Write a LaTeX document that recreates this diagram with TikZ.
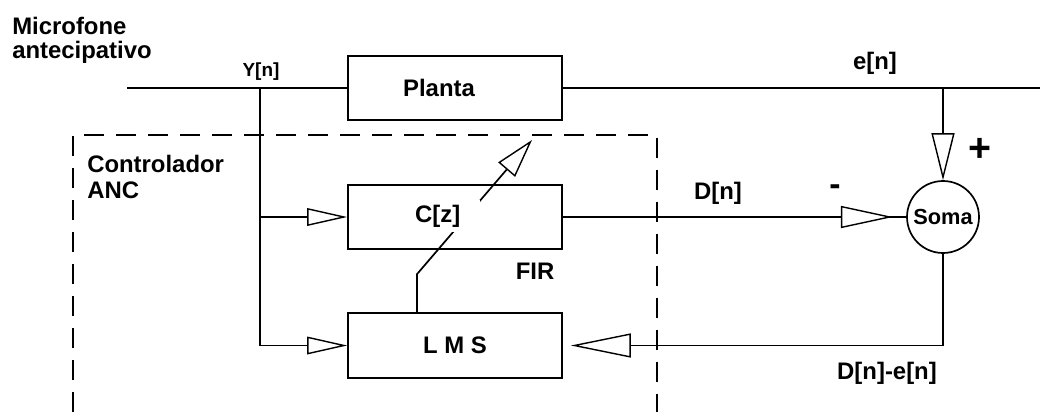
\documentclass[tikz,border=0pt]{standalone}
\usepackage{fontspec}
\setmainfont{Liberation Sans}
\usetikzlibrary{arrows.meta,positioning,calc}

\begin{document}
\begin{tikzpicture}[
  block/.style={draw, line width=1.2pt, minimum width=5.35cm, minimum height=1.6cm, inner sep=0pt},
  txt/.style={font=\fontsize{17}{17}\selectfont\bfseries, inner sep=1pt},
  conn/.style={line width=1.2pt},
  tri/.style 2 args={conn, -{Triangle[fill=white, length=#1, width=#2, line width=1pt]}},
  ctrlbox/.style={line width=1.4pt, dash pattern=on 0.5cm off 0.3cm}
]
\useasboundingbox (0,0) rectangle (26,-10.3);

% Blocks
\node[block] (planta) at (11.375,-2.2) {};
\node[block] (cz) at (11.375,-5.425) {};
\node[block, txt, minimum height=1.625cm] (lms) at (11.375,-8.6375) {L M S};
\node[circle, draw, line width=1.2pt, minimum size=1.8cm, inner sep=0pt,
      font=\fontsize{15.5}{15.5}\selectfont\bfseries] (soma) at (23.575,-5.425) {Soma};

% Controller region
\draw[ctrlbox] (1.825,-10.3) -- (1.825,-3.375) -- (16.425,-3.375) -- (16.425,-10.3);

% Primary path
\coordinate (mic) at (3.175,-2.2);
\coordinate (yn) at (6.5,-2.2);
\coordinate (en) at (23.575,-2.2);
\coordinate (out) at (26,-2.2);
\draw[conn] (mic) -- (planta.west);
\draw[conn] (planta.east) -- (out);

% Reference signal to C[z] and LMS
\draw[tri={1cm}{0.44cm}] (yn) |- (lms.west);
\draw[tri={1cm}{0.44cm}] (yn |- cz.west) -- (cz.west);

% Summing junction
\draw[tri={1.175cm}{0.575cm}] (en) -- (soma.north);
\draw[conn] (cz.east) -- (soma.west);
\draw[tri={1.3cm}{0.55cm}, shorten >=0.33cm] (cz.east) -- (soma.west);
\draw[tri={1.5cm}{0.6cm}, shorten >=0.2cm] (soma.south) |- (lms.east);

% Coefficient update
\coordinate (adj) at ($(lms.north)+(-0.95,0)$);
\coordinate (tip) at (13.3,-3.5);
\draw[tri={0.975cm}{0.55cm}] (adj) -- ++(0,0.95) -- (tip);

% Labels
\node[txt, fill=white, anchor=west, align=left, text width=1.55cm, minimum height=0.8cm, inner xsep=2pt]
  (czlabel) at (10.3,-5.4) {C[z]};
\node[txt] (plantalabel) at ($(planta.center)+(-0.4,0)$) {Planta};
\node[txt, anchor=base west, inner sep=0pt] (miclabel) at (0.3,-0.85) {Microfone};
\node[txt, anchor=base west, inner sep=0pt] (miclabel2) at (0.3,-1.47) {antecipativo};
\node[txt, font=\fontsize{13.5}{13.5}\selectfont\bfseries] (ylabel) at (6.525,-1.8) {Y[n]};
\node[txt] (elabel) at (21.875,-1.575) {e[n]};
\node[txt, anchor=west, align=left, inner sep=0pt, font=\fontsize{17}{18}\selectfont\bfseries]
  (ctrllabel) at (2.175,-4.425) {Controlador\\ANC};
\node[txt] (firlabel) at (13.375,-6.775) {FIR};
\node[txt] (dlabel) at (17.95,-4.825) {D[n]};
\node[txt, font=\fontsize{24}{24}\selectfont\bfseries] (minus) at (20.875,-4.75) {-};
\node[txt, font=\fontsize{28}{28}\selectfont\bfseries] (plus) at (24.5,-3.75) {+};
\node[txt] (errlabel) at (22.175,-9.325) {D[n]-e[n]};

\end{tikzpicture}
\end{document}
